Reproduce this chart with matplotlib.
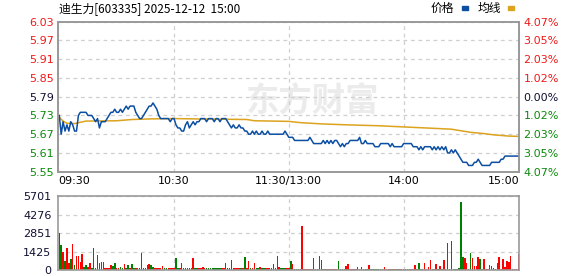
import matplotlib
matplotlib.use("Agg")
import matplotlib.pyplot as plt
from matplotlib.patches import Rectangle

# 数据: 分时价格 (每分钟), 均价线, 成交量
prev_close = 5.79
price = [
    5.73, 5.67, 5.71, 5.68, 5.70, 5.68, 5.71, 5.70, 5.68, 5.68,
    5.73, 5.74, 5.74, 5.74, 5.74, 5.73, 5.73, 5.73, 5.72, 5.71,
    5.72, 5.69, 5.71, 5.71, 5.71, 5.72, 5.73, 5.74, 5.74, 5.75,
    5.74, 5.74, 5.75, 5.74, 5.75, 5.76, 5.75, 5.76, 5.76, 5.76,
    5.74, 5.73, 5.72, 5.72, 5.73, 5.74, 5.75, 5.76, 5.76, 5.77,
    5.76, 5.75, 5.73, 5.72, 5.72, 5.72, 5.72, 5.72, 5.71, 5.72,
    5.72, 5.70, 5.69, 5.69, 5.68, 5.68, 5.70, 5.71, 5.69, 5.70,
    5.71, 5.70, 5.71, 5.71, 5.72, 5.72, 5.72, 5.71, 5.72, 5.72,
    5.72, 5.71, 5.72, 5.72, 5.71, 5.72, 5.72, 5.72, 5.71, 5.70,
    5.69, 5.70, 5.69, 5.69, 5.70, 5.69, 5.69, 5.68, 5.68, 5.67,
    5.67, 5.68, 5.67, 5.68, 5.67, 5.67, 5.68, 5.67, 5.67, 5.68,
    5.67, 5.67, 5.67, 5.67, 5.67, 5.67, 5.67, 5.67, 5.68, 5.67,
    5.66, 5.66, 5.66, 5.65, 5.65, 5.65, 5.65, 5.65, 5.65, 5.65,
    5.65, 5.66, 5.65, 5.64, 5.64, 5.64, 5.64, 5.64, 5.65, 5.64,
    5.65, 5.64, 5.65, 5.64, 5.65, 5.65, 5.64, 5.63, 5.64, 5.63,
    5.64, 5.64, 5.65, 5.65, 5.65, 5.65, 5.65, 5.66, 5.64, 5.64,
    5.65, 5.64, 5.64, 5.64, 5.64, 5.63, 5.63, 5.63, 5.64, 5.64,
    5.64, 5.64, 5.64, 5.63, 5.64, 5.63, 5.63, 5.63, 5.63, 5.63,
    5.64, 5.64, 5.64, 5.64, 5.64, 5.63, 5.63, 5.63, 5.62, 5.63,
    5.62, 5.63, 5.63, 5.63, 5.63, 5.62, 5.63, 5.62, 5.63, 5.62,
    5.63, 5.62, 5.63, 5.61, 5.61, 5.62, 5.61, 5.62, 5.61, 5.60,
    5.59, 5.58, 5.58, 5.58, 5.57, 5.57, 5.57, 5.58, 5.58, 5.59,
    5.58, 5.57, 5.57, 5.57, 5.57, 5.57, 5.58, 5.58, 5.58, 5.58,
    5.58, 5.59, 5.59, 5.60, 5.60, 5.60, 5.60, 5.60, 5.60, 5.60, 5.60,
]

avg_min = [0, 2, 4, 8, 11, 14, 30, 38, 48, 60, 70, 98, 102, 120, 126,
           137, 150, 167, 181, 195, 205, 210, 215, 222, 227, 235, 240]
avg_val = [5.724, 5.712, 5.705, 5.704, 5.708, 5.712, 5.713, 5.717, 5.719,
           5.720, 5.719, 5.717, 5.713, 5.711, 5.707, 5.703, 5.700, 5.697,
           5.693, 5.689, 5.686, 5.681, 5.676, 5.672, 5.668, 5.664, 5.663]

volume = [
    2850, 1930, 1410, 690, 1670, 565, 850, 2000, 385, 1080,
    1080, 640, 1230, 200, 385, 255, 565, 180, 1700, 130,
    1160, 540, 615, 615, 180, 130, 180, 385, 280, 540,
    130, 180, 255, 130, 440, 130, 385, 130, 440, 130,
    130, 130, 130, 1310, 130, 130, 385, 440, 385, 255,
    130, 180, 130, 130, 310, 130, 130, 130, 130, 130,
    130, 900, 130, 130, 565, 130, 130, 130, 130, 130,
    950, 130, 130, 130, 130, 255, 130, 130, 130, 130,
    130, 130, 130, 130, 130, 130, 130, 565, 130, 130,
    770, 130, 130, 130, 130, 130, 130, 1000, 180, 700,
    130, 180, 565, 130, 130, 255, 130, 130, 130, 130,
    130, 130, 460, 130, 1080, 255, 130, 130, 130, 130,
    180, 690, 460, 100, 100, 100, 100, 3390, 100, 100,
    100, 100, 100, 925, 100, 100, 1080, 770, 100, 100,
    100, 100, 100, 100, 100, 100, 690, 100, 100, 100,
    300, 460, 100, 100, 100, 100, 200, 100, 200, 100,
    100, 100, 385, 100, 100, 100, 100, 100, 100, 100,
    200, 100, 100, 100, 100, 100, 100, 100, 100, 100,
    100, 100, 100, 100, 100, 100, 385, 100, 540, 100,
    100, 540, 100, 200, 770, 100, 100, 460, 100, 300,
    100, 770, 100, 2080, 100, 2240, 100, 100, 100, 150,
    5240, 1000, 925, 540, 100, 1310, 925, 300, 300, 1000,
    850, 100, 850, 100, 100, 385, 300, 150, 100, 540,
    1000, 100, 850, 230, 690, 600, 1080, 100, 100, 100, 1230,
]
vol_dir = "".join([
    "GGRGRRGRGR", "RRRGGRRGGR", "GRRRRRRRGG", "RRGGRGGRGG",
    "RRRRRRRRGG", "RRRRRGGRRR", "RGGRRGGRRR", "RGGRRRRGGG",
    "GGGGGRRRGG", "GRRRRGRGRR", "GRRGGRGGRR", "RRGRRRGGGR",
    "RGRGGGRRRR", "RRRGRRRRGG", "RRRRRRGGGG", "RRRRRRRGGG",
    "GGRGGGGGGG", "RRRRGRGRRR", "RRRRRRRRGG", "GRRRRGRRGR",
    "GRGGGRGGGG", "GGRRGGRRRR", "GGRRRRRRRR", "RRRRRRRRRRR",
])

price_ticks = [6.03, 5.97, 5.91, 5.85, 5.79, 5.73, 5.67, 5.61, 5.55]
pct_labels = ['4.07%', '3.05%', '2.03%', '1.02%', '0.00%',
              '1.02%', '2.03%', '3.05%', '4.07%']
vol_ticks = [0, 1425, 2851, 4276, 5701]
time_labels = ['09:30', '10:30', '11:30/13:00', '14:00', '15:00']
time_pos = [0, 60.5, 120.5, 180.5, 241]

RED = '#f01818'
GREEN = '#0a8a0a'
DARK = '#101030'
GRID = '#cfcfcf'
FRAME = '#999999'

fig = plt.figure(figsize=(5.78, 2.76), dpi=100)
ax = fig.add_axes([0.1009, 0.3779, 0.7976, 0.5435])
axv = fig.add_axes([0.1009, 0.0217, 0.7976, 0.2681])

x = [i + 0.5 for i in range(len(price))]
ax.plot(x, price, color='#0b4ea2', lw=1.1, zorder=3)
ax.plot([m + 0.5 for m in avg_min], avg_val, color='#dca31e', lw=1.1, zorder=2)

# 水印
ax.text(0.54, 0.63, '东方财富', transform=fig.transFigure, fontsize=24,
        family=['Noto Sans CJK SC'], fontweight='bold', color='#ebebeb',
        ha='center', va='center', zorder=0)

ax.set_xlim(0, 241)
ax.set_ylim(5.55, 6.03)
ax.set_yticks(price_ticks)
ax.set_yticklabels(['%.2f' % t for t in price_ticks], fontsize=8)
for lab, t in zip(ax.get_yticklabels(), price_ticks):
    lab.set_color(RED if t > prev_close else (GREEN if t < prev_close else DARK))
ax.set_xticks(time_pos)
ax.set_xticklabels(time_labels, fontsize=8, color='black')
ax.get_xticklabels()[0].set_ha('left')
ax.get_xticklabels()[-1].set_ha('right')
ax.tick_params(length=0, pad=3)

ax2 = ax.twinx()
ax2.set_ylim(5.55, 6.03)
ax2.set_yticks(price_ticks)
ax2.set_yticklabels(pct_labels, fontsize=8)
for lab, t in zip(ax2.get_yticklabels(), price_ticks):
    lab.set_color(RED if t > prev_close else (GREEN if t < prev_close else DARK))
ax2.tick_params(length=0, pad=3)

colors = ['#ff0000' if d == 'R' else '#008000' for d in vol_dir]
axv.bar(x, volume, width=0.8, color=colors, linewidth=0, antialiased=False)
axv.set_xlim(0, 241)
axv.set_ylim(0, 5701)
axv.set_yticks(vol_ticks)
axv.set_yticklabels([str(v) for v in vol_ticks], fontsize=8, color=DARK)
axv.set_xticks([60.5, 120.5, 180.5])
axv.set_xticklabels([])
axv.tick_params(length=0, pad=5)

for a in (ax, axv):
    a.grid(True, color=GRID, linestyle=(0, (3, 3)), lw=0.9)
    a.set_axisbelow(True)
    for s in a.spines.values():
        s.set_color(FRAME)
        s.set_linewidth(1.2)
for s in ax2.spines.values():
    s.set_color(FRAME)
    s.set_linewidth(1.2)

fig.text(59 / 578, 1 - 8.5 / 276, '迪生力[603335] 2025-12-12  15:00',
         family=['Noto Sans CJK SC'], fontsize=8.5, va='center', color='black')
fig.text(431 / 578, 1 - 8.5 / 276, '价格', family=['Noto Sans CJK SC'],
         fontsize=8.5, va='center', color='black')
fig.add_artist(Rectangle((461.5 / 578, 1 - 9.5 / 276), 6 / 578, 3 / 276,
                         transform=fig.transFigure, color='#0b4ea2'))
fig.text(478 / 578, 1 - 8.5 / 276, '均线', family=['Noto Sans CJK SC'],
         fontsize=8.5, va='center', color='black')
fig.add_artist(Rectangle((508 / 578, 1 - 9.5 / 276), 6 / 578, 3 / 276,
                         transform=fig.transFigure, color='#dca31e'))

fig.savefig('out.png', dpi=100)
